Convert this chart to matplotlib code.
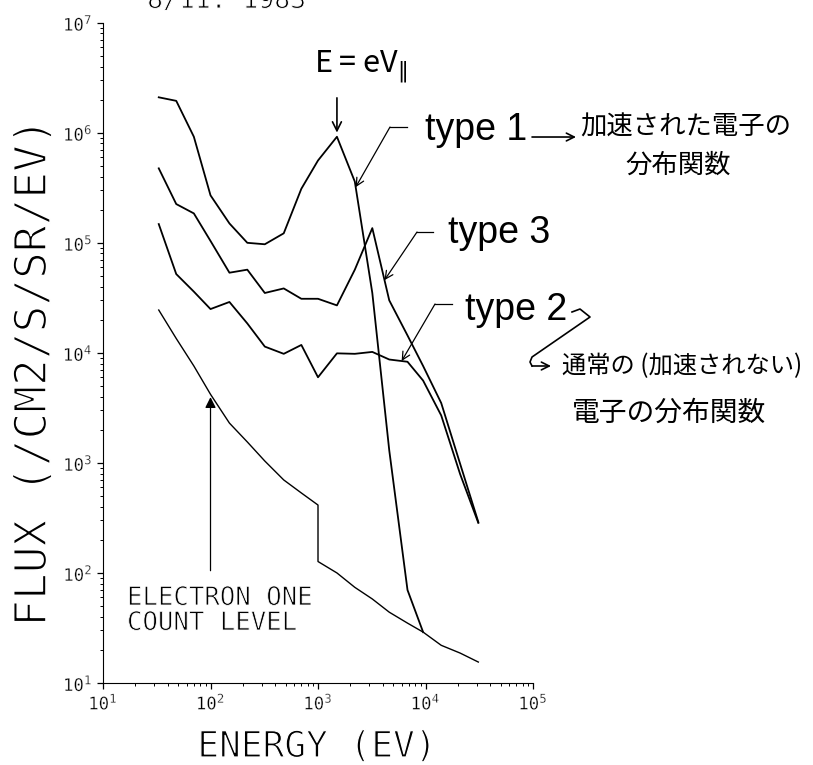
import numpy as np
import matplotlib
matplotlib.use('Agg')
import matplotlib.pyplot as plt
import matplotlib.patheffects as pe
from matplotlib.ticker import LogLocator, NullFormatter

plt.rcParams['font.family'] = 'DejaVu Sans Mono'

# energy channels (eV)
energy = [33, 48, 70, 100, 150, 220, 320, 480, 700, 1000, 1500, 2200,
          3200, 4600, 6800, 9500, 14000, 21000, 31000]

# flux (/cm2/s/sr/eV)
type1 = [2.1e6, 1.95e6, 9.2e5, 2.7e5, 1.5e5, 1.0e5, 9.7e4, 1.22e5, 3.1e5,
         5.6e5, 9.2e5, 3.6e5, 3.5e4, 1.3e3, 70, 29]
type3 = [4.75e5, 2.25e5, 1.85e5, 1.04e5, 5.35e4, 5.7e4, 3.5e4, 3.85e4, 3.1e4,
         3.1e4, 2.7e4, 5.7e4, 1.36e5, 3.0e4, 1.44e4, 7.6e3, 3.5e3, 980, 290]
type2 = [1.48e5, 5.2e4, 3.6e4, 2.5e4, 2.9e4, 1.85e4, 1.14e4, 9.8e3, 1.18e4,
         6.0e3, 9.9e3, 9.8e3, 1.02e4, 8.7e3, 8.3e3, 5.6e3, 2.7e3, 790, 285]

# one count level (has a step at 1 keV)
count_E = [33, 48, 70, 100, 150, 220, 320, 480, 700, 1000, 1000, 1500, 2200,
           3200, 4600, 6800, 9500, 14000, 21000, 31000]
count = [2.45e4, 1.35e4, 7.6e3, 4.2e3, 2.3e3, 1.55e3, 1.04e3, 700, 533, 414,
         127, 100, 74, 58, 44, 35, 29, 22, 18.7, 15.5]


def along(xs, ys, i, t):
    # point on segment i -> i+1 of a log-log polyline
    lx = np.log10(xs[i]) + t * (np.log10(xs[i + 1]) - np.log10(xs[i]))
    ly = np.log10(ys[i]) + t * (np.log10(ys[i + 1]) - np.log10(ys[i]))
    return 10 ** lx, 10 ** ly


def thin(w):
    # eat into the glyph outline so the plotter lettering looks thin
    return [pe.Stroke(linewidth=w, foreground='white')]


fig = plt.figure(figsize=(8.13, 7.65), dpi=100)
ax = fig.add_axes([0.1267, 0.1072, 0.5289, 0.8631])

ax.plot(energy[:len(type1)], type1, color='black', lw=1.3)
ax.plot(energy, type3, color='black', lw=1.3)
ax.plot(energy, type2, color='black', lw=1.3)
ax.plot(count_E, count, color='black', lw=1.0)

ax.set_xscale('log')
ax.set_yscale('log')
ax.set_xlim(10, 1e5)
ax.set_ylim(10, 1e7)
ax.spines['top'].set_visible(False)
ax.spines['right'].set_visible(False)
for axis in (ax.xaxis, ax.yaxis):
    axis.set_major_locator(LogLocator(base=10, numticks=12))
    axis.set_minor_locator(LogLocator(base=10, subs=np.arange(2, 10), numticks=12))
    axis.set_minor_formatter(NullFormatter())
ax.tick_params(which='major', direction='out', length=4.5, width=0.9, labelsize=12.5, pad=3)
ax.tick_params(which='minor', direction='out', length=2.5, width=0.7)
for lab in ax.get_xticklabels() + ax.get_yticklabels():
    lab.set_path_effects(thin(0.25))

ax.set_xlabel('ENERGY (EV)', fontsize=26, path_effects=thin(0.9))
ax.xaxis.set_label_coords(0.4977, -0.0712)
ax.set_ylabel('FLUX (/CM2/S/SR/EV)', fontsize=32, path_effects=thin(1.2))
ax.yaxis.set_label_coords(-0.1116, 0.47)

fig.text(0.181, 0.9895, '8/11. 1983', fontsize=19, va='baseline', ha='left',
         path_effects=thin(0.7))

# annotations
lw_lead = 0.9
arrow = dict(arrowstyle='->', lw=lw_lead, color='black', shrinkA=0, shrinkB=0, mutation_scale=14)

ax.annotate('', xy=(energy[10], type1[10]), xytext=(0, 28), textcoords='offset points',
            arrowprops=dict(arrowstyle='->', lw=1.2, color='black', shrinkA=0, shrinkB=3,
                            mutation_scale=16))
ax.text(0.6, 0.9329, r'E = eV$_{\Vert}$', transform=ax.transAxes, fontsize=22,
        family='Noto Sans CJK JP', ha='center', va='center')

# type 1
ax.annotate('', xy=along(energy, type1, 11, 0.05), xytext=(0.6674, 0.8420),
            textcoords='axes fraction', arrowprops=arrow, annotation_clip=False)
ax.plot([0.6674, 0.7070], [0.8420, 0.8420], transform=ax.transAxes, color='black',
        lw=lw_lead, clip_on=False)
ax.text(0.7488, 0.8375, 'type 1', transform=ax.transAxes, fontsize=27,
        family='Liberation Sans', ha='left', va='center')
ax.annotate('', xy=(1.1000, 0.8269), xytext=(0.9977, 0.8269), xycoords='axes fraction',
            textcoords='axes fraction', arrowprops=dict(arrow, lw=1.2), annotation_clip=False)
ax.text(1.1093, 0.8420, '加速された電子の', transform=ax.transAxes, fontsize=19,
        family='Noto Sans CJK JP', ha='left', va='center')
ax.text(1.2140, 0.7837, '分布関数', transform=ax.transAxes, fontsize=19,
        family='Noto Sans CJK JP', ha='left', va='center')

# type 3
ax.annotate('', xy=along(energy, type3, 12, 0.72), xytext=(0.7302, 0.6830),
            textcoords='axes fraction', arrowprops=arrow, annotation_clip=False)
ax.plot([0.7302, 0.7674], [0.6830, 0.6830], transform=ax.transAxes, color='black',
        lw=lw_lead, clip_on=False)
ax.text(0.8023, 0.6815, 'type 3', transform=ax.transAxes, fontsize=27,
        family='Liberation Sans', ha='left', va='center')

# type 2
ax.annotate('', xy=along(energy, type2, 13, 0.68), xytext=(0.7721, 0.5740),
            textcoords='axes fraction', arrowprops=arrow, annotation_clip=False)
ax.plot([0.7721, 0.8116], [0.5740, 0.5740], transform=ax.transAxes, color='black',
        lw=lw_lead, clip_on=False)
ax.text(0.8419, 0.5649, 'type 2', transform=ax.transAxes, fontsize=27,
        family='Liberation Sans', ha='left', va='center')
ax.plot([1.0907, 1.1093, 1.1326, 0.9977, 0.9930, 0.9977],
        [0.5619, 0.5664, 0.5543, 0.4937, 0.4861, 0.4801],
        transform=ax.transAxes, color='black', lw=1.2, clip_on=False)
ax.annotate('', xy=(1.0419, 0.4801), xytext=(0.9977, 0.4801), xycoords='axes fraction',
            textcoords='axes fraction', arrowprops=dict(arrow, lw=1.2), annotation_clip=False)
ax.text(1.0674, 0.4801, '通常の (加速されない)', transform=ax.transAxes, fontsize=17.5,
        family='Noto Sans CJK JP', ha='left', va='center')
ax.text(1.0907, 0.4089, '電子の分布関数', transform=ax.transAxes, fontsize=20,
        family='Noto Sans CJK JP', ha='left', va='center')

# one count level
ax.annotate('', xy=(count_E[3], count[3]), xytext=(0, -127), textcoords='offset points',
            arrowprops=dict(arrowstyle='-|>', lw=0.9, color='black', shrinkA=0, shrinkB=2,
                            mutation_scale=16))
ax.text(0.0558, 0.1484, 'ELECTRON ONE\nCOUNT LEVEL', transform=ax.transAxes,
        fontsize=18.5, ha='left', va='top', linespacing=0.95, path_effects=thin(0.6))

fig.savefig('out.png', dpi=100)
